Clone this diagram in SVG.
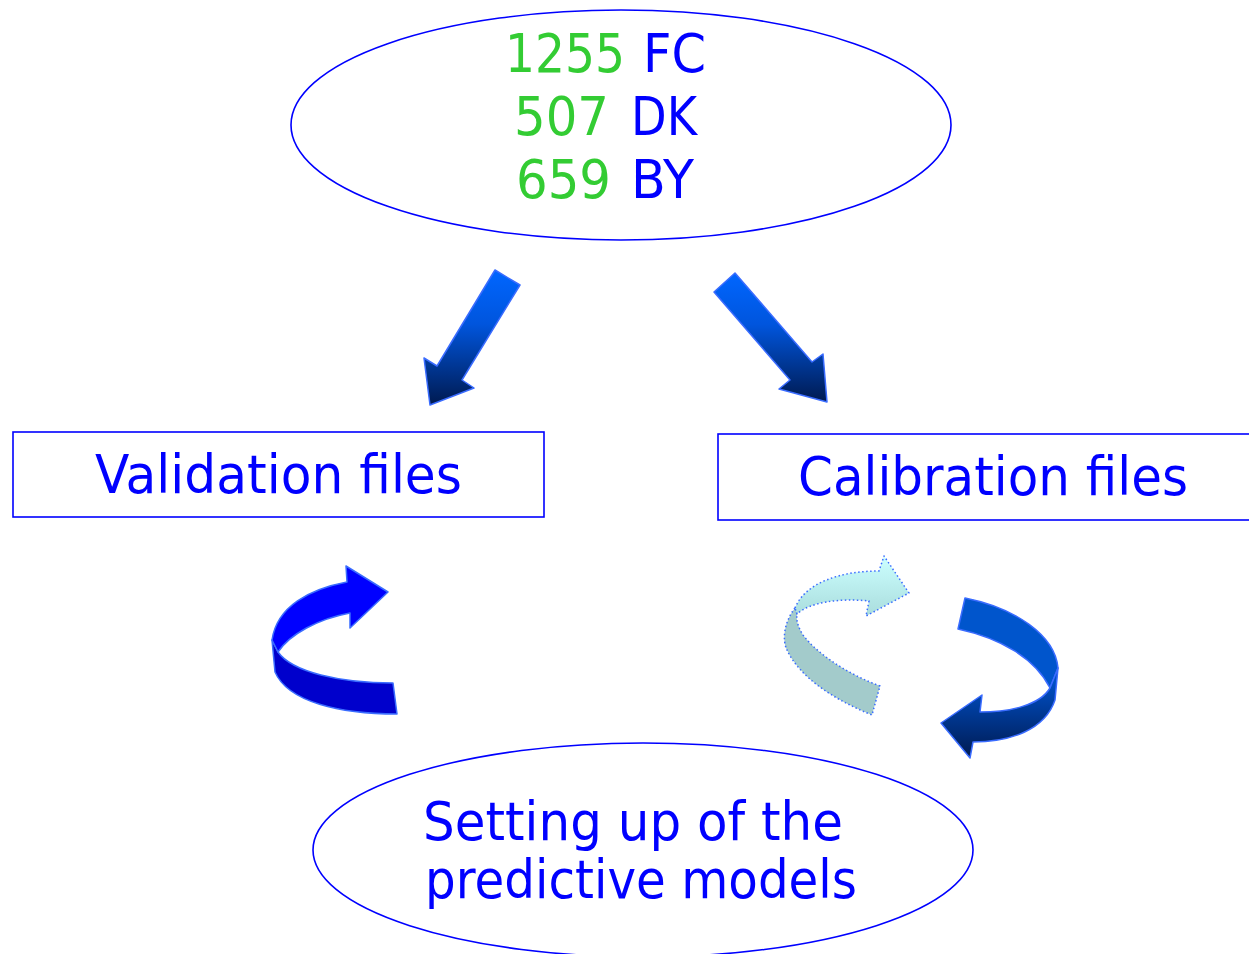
<svg xmlns="http://www.w3.org/2000/svg" width="1249" height="954" viewBox="0 0 1249 954">
<defs>
<style>
.lbl{font-family:"Comic Sans MS","DejaVu Sans",sans-serif;font-size:54px;fill:#0000ff}
.num{fill:#33cc33}
.shape{fill:#ffffff;stroke:#0000ff;stroke-width:1.6}
.arr{stroke:#3a6cff;stroke-width:1.5;stroke-linejoin:round}
.dot{stroke:#3a6cff;stroke-width:1.5;stroke-dasharray:1.5 2.5;stroke-linejoin:round}
</style>
<linearGradient id="gStraightL" gradientUnits="userSpaceOnUse" x1="0" y1="270" x2="0" y2="405">
<stop offset="0" stop-color="#0066ff"/><stop offset="0.4" stop-color="#0055dd"/><stop offset="1" stop-color="#001a50"/>
</linearGradient>
<linearGradient id="gStraightR" gradientUnits="userSpaceOnUse" x1="0" y1="273" x2="0" y2="402">
<stop offset="0" stop-color="#0066ff"/><stop offset="0.4" stop-color="#0055dd"/><stop offset="1" stop-color="#001a50"/>
</linearGradient>
<linearGradient id="gLight" gradientUnits="userSpaceOnUse" x1="0" y1="556" x2="0" y2="616">
<stop offset="0" stop-color="#ccffff"/><stop offset="1" stop-color="#aadddd"/>
</linearGradient>
<linearGradient id="gDark" gradientUnits="userSpaceOnUse" x1="0" y1="680" x2="0" y2="758">
<stop offset="0" stop-color="#0050c8"/><stop offset="1" stop-color="#001a50"/>
</linearGradient>
</defs>
<rect width="1249" height="954" fill="#ffffff"/>

<g id="node-counts">
<ellipse class="shape" cx="621" cy="125" rx="330" ry="115"/>
<text class="lbl"><tspan class="num" x="505" y="72" textLength="120" lengthAdjust="spacingAndGlyphs">1255</tspan><tspan x="643" y="72" textLength="63" lengthAdjust="spacingAndGlyphs">FC</tspan></text>
<text class="lbl"><tspan class="num" x="514" y="135" textLength="95" lengthAdjust="spacingAndGlyphs">507</tspan><tspan x="631" y="135" textLength="66" lengthAdjust="spacingAndGlyphs">DK</tspan></text>
<text class="lbl"><tspan class="num" x="516" y="198" textLength="95" lengthAdjust="spacingAndGlyphs">659</tspan><tspan x="631" y="198" textLength="63" lengthAdjust="spacingAndGlyphs">BY</tspan></text>
</g>

<g id="node-validation">
<rect class="shape" x="13" y="432" width="531" height="85"/>
<text class="lbl" x="95" y="493" textLength="367" lengthAdjust="spacingAndGlyphs">Validation files</text>
</g>

<g id="node-calibration">
<rect class="shape" x="718" y="434" width="540" height="86"/>
<text class="lbl" x="798" y="495" textLength="390" lengthAdjust="spacingAndGlyphs">Calibration files</text>
</g>

<g id="node-models">
<ellipse class="shape" cx="643" cy="850" rx="330" ry="107"/>
<text class="lbl" x="423" y="840" textLength="420" lengthAdjust="spacingAndGlyphs">Setting up of the</text>
<text class="lbl" x="425" y="898" textLength="432" lengthAdjust="spacingAndGlyphs">predictive models</text>
</g>

<g id="connectors">
<polygon class="arr" fill="url(#gStraightL)" points="495,270 520,285 462,380 474,388 430,405 424,358 437,366"/>
<polygon class="arr" fill="url(#gStraightR)" points="735,273 812,362 823,354 827,402 779,389 790,380 714,292"/>

<g id="cycle-left">
<path class="arr" fill="#0000cc" d="M272,640 L275,672 C288,702 340,714 397,714 L393,683 C340,683 292,672 278,652 Z"/>
<path class="arr" fill="#0000ff" d="M272,640 C277,606 310,589 347,582 L346,566 L388,592 L350,628 L350,613 C318,619 290,634 278,652 Z"/>
</g>

<g id="cycle-right-light">
<path class="dot" fill="#a3cbcb" d="M795,608 C784,622 782,640 787,650 C800,678 835,700 872,715 L880,686 C850,675 818,655 803,635 C798,627 796,620 797,614 Z"/>
<path class="dot" fill="url(#gLight)" d="M795,608 C805,583 840,571 879,571 L884,556 L909,593 L866,616 L869,601 C840,598 810,602 797,614 Z"/>
</g>

<g id="cycle-right-dark">
<path class="arr" fill="#0055cc" d="M965,598 C1015,608 1055,635 1058,668 L1050,688 C1035,658 1000,638 958,629 Z"/>
<path class="arr" fill="url(#gDark)" d="M1058,668 L1055,700 C1045,730 1010,742 973,742 L970,758 L941,723 L982,695 L980,712 C1010,712 1040,705 1050,688 Z"/>
</g>
</g>
</svg>
